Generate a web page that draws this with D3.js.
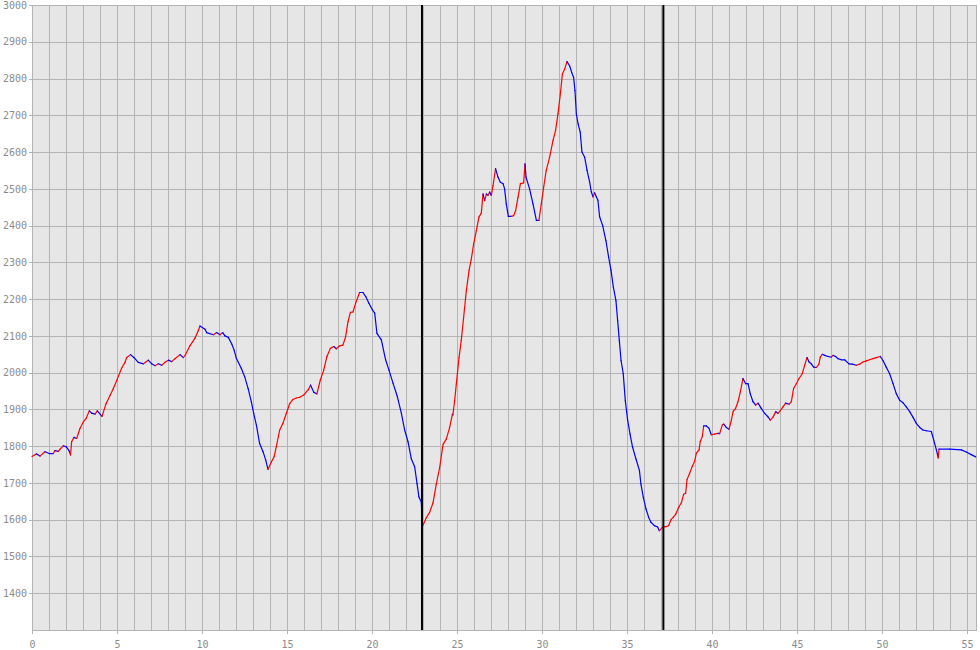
<!DOCTYPE html>
<html>
<head>
<meta charset="utf-8">
<script src="https://cdn.jsdelivr.net/npm/d3@7"></script>
<style>
  html, body { margin: 0; padding: 0; background: #ffffff; }
  svg { display: block; }
  .lbl { font-family: "DejaVu Sans Mono", "Liberation Mono", monospace; font-size: 10px; fill: #8c8c8c; }
</style>
</head>
<body>
<svg id="chart" width="980" height="650"></svg>
<script>
// ---- data ----
const distanceKm = [
  0.00,0.27,0.47,0.76,1.02,1.25,1.35,1.55,1.65,1.84,2.02,2.18,2.27,2.33,2.47,2.63,2.82,3.02,3.18,3.37,
  3.51,3.71,3.84,4.12,4.35,4.59,4.78,5.02,5.27,5.47,5.57,5.80,6.02,6.25,6.55,6.84,7.04,7.24,7.43,7.63,
  7.82,8.02,8.22,8.41,8.71,8.90,9.02,9.29,9.59,9.78,9.88,10.18,10.27,10.67,10.86,11.06,11.22,11.35,11.55,11.75,
  11.90,12.02,12.31,12.51,12.71,12.90,13.04,13.20,13.39,13.59,13.75,13.88,14.08,14.24,14.37,14.57,14.76,14.96,15.16,15.35,
  15.55,15.75,15.98,16.24,16.39,16.57,16.76,16.96,17.16,17.35,17.55,17.75,17.90,18.10,18.29,18.45,18.59,18.73,18.88,19.04,
  19.27,19.47,19.63,19.82,20.02,20.16,20.29,20.55,20.80,21.00,21.24,21.49,21.73,21.92,22.12,22.31,22.51,22.65,22.76,22.90,
  22.96,23.20,23.39,23.59,23.78,23.98,24.18,24.37,24.57,24.73,24.76,24.86,24.96,25.12,25.25,25.39,25.55,25.71,25.84,25.98,
  26.14,26.29,26.43,26.53,26.63,26.73,26.82,26.92,27.02,27.12,27.27,27.41,27.55,27.71,27.80,27.90,28.02,28.20,28.33,28.45,
  28.59,28.73,28.92,29.00,29.06,29.27,29.47,29.67,29.82,29.96,30.10,30.25,30.45,30.65,30.80,30.94,31.08,31.20,31.33,31.47,
  31.63,31.75,31.86,31.94,32.02,32.12,32.25,32.35,32.51,32.65,32.80,32.90,33.00,33.10,33.20,33.29,33.39,33.57,33.76,33.92,
  34.06,34.20,34.35,34.45,34.55,34.65,34.78,34.90,35.04,35.18,35.33,35.53,35.73,35.82,35.96,36.12,36.27,36.41,36.61,36.80,
  36.90,37.10,37.29,37.45,37.59,37.73,37.88,38.04,38.20,38.33,38.45,38.53,38.69,38.84,38.98,39.08,39.24,39.31,39.43,39.51,
  39.67,39.82,39.96,40.16,40.35,40.45,40.61,40.69,40.84,41.00,41.14,41.24,41.39,41.53,41.67,41.82,41.98,42.12,42.25,42.41,
  42.57,42.71,42.90,43.10,43.29,43.43,43.59,43.75,43.88,44.02,44.18,44.33,44.53,44.67,44.80,44.96,45.12,45.31,45.45,45.59,
  45.71,45.84,45.98,46.14,46.29,46.37,46.49,46.63,46.82,47.02,47.12,47.27,47.41,47.61,47.80,48.06,48.25,48.49,48.69,48.88,
  49.08,49.27,49.47,49.67,49.90,50.06,50.25,50.45,50.65,50.84,51.04,51.24,51.43,51.63,51.82,52.02,52.22,52.41,52.61,52.90,
  53.04,53.20,53.31,53.35,53.98,54.67,54.96,55.25,55.51
];
const elevationM = [
  1772,1779,1773,1785,1780,1780,1788,1786,1792,1801,1798,1788,1776,1812,1824,1821,1848,1866,1875,1896,
  1890,1887,1896,1881,1915,1938,1956,1983,2012,2028,2041,2049,2040,2028,2024,2034,2024,2019,2024,2020,
  2028,2034,2030,2038,2049,2041,2048,2073,2094,2114,2127,2118,2109,2103,2109,2103,2109,2100,2096,2078,
  2060,2039,2012,1989,1957,1921,1889,1857,1807,1785,1762,1737,1757,1771,1798,1844,1862,1889,1916,1927,
  1931,1933,1939,1953,1966,1947,1942,1980,2007,2044,2066,2071,2065,2073,2075,2098,2139,2164,2165,2189,
  2218,2218,2207,2189,2171,2162,2107,2089,2035,2007,1971,1935,1889,1844,1812,1766,1744,1698,1662,1648,
  1581,1606,1620,1646,1696,1742,1805,1819,1851,1887,1885,1923,1969,2041,2087,2150,2223,2278,2309,2350,
  2387,2423,2434,2486,2468,2486,2482,2491,2482,2509,2555,2532,2518,2514,2500,2459,2425,2425,2427,2441,
  2477,2514,2516,2568,2532,2500,2459,2414,2414,2459,2505,2550,2586,2632,2659,2704,2758,2812,2825,2846,
  2834,2816,2803,2767,2704,2677,2654,2600,2586,2550,2519,2492,2478,2489,2478,2469,2424,2400,2359,2314,
  2278,2232,2196,2142,2087,2033,1997,1924,1870,1833,1797,1765,1734,1697,1661,1629,1607,1593,1584,1580,
  1570,1580,1581,1584,1600,1607,1616,1634,1646,1669,1672,1709,1727,1745,1759,1781,1790,1813,1826,1855,
  1855,1849,1831,1833,1835,1834,1858,1860,1851,1846,1871,1894,1903,1921,1948,1984,1970,1970,1943,1921,
  1912,1917,1903,1889,1880,1871,1879,1894,1889,1897,1907,1917,1914,1921,1957,1970,1984,1997,2020,2041,
  2029,2024,2015,2014,2023,2042,2050,2047,2044,2042,2047,2044,2038,2035,2035,2024,2023,2020,2023,2029,
  2032,2035,2038,2041,2044,2033,2015,1997,1970,1943,1925,1918,1907,1894,1879,1862,1851,1844,1842,1840,
  1817,1790,1768,1792,1792,1790,1784,1777,1771
];
const xGridValues = d3.range(0, 56, 1);
const xLabelValues = [0, 5, 10, 15, 20, 25, 30, 35, 40, 45, 50, 55];
const yGridValues = d3.range(1300, 3001, 100);
const yLabelValues = [1400, 1500, 1600, 1700, 1800, 1900, 2000, 2100, 2200, 2300, 2400, 2500, 2600, 2700, 2800, 2900, 3000];
const markerKm = [22.94, 37.14];
const xDomain = [0, 55.53];
const yDomain = [1300, 3000];

(function draw() {
  const svg = d3.select("#chart");
  const pL = 32, pR = 976, pT = 5, pB = 630;
  const x = d3.scaleLinear().domain(xDomain).range([pL, pR]);
  const y = d3.scaleLinear().domain(yDomain).range([pB, pT]);

  svg.append("rect").attr("x", pL).attr("y", pT)
    .attr("width", pR - pL).attr("height", pB - pT).attr("fill", "#e6e6e6");

  const gridColor = "#b4b4b4";
  const gx = svg.append("g").attr("transform", `translate(0,${pB})`)
    .call(d3.axisBottom(x).tickValues(xGridValues).tickSize(-(pB - pT)).tickFormat(""));
  gx.select(".domain").remove();
  gx.selectAll("line").attr("stroke", gridColor).attr("shape-rendering", "crispEdges");

  const gy = svg.append("g").attr("transform", `translate(${pL},0)`)
    .call(d3.axisLeft(y).tickValues(yGridValues).tickSize(-(pR - pL)).tickFormat(""));
  gy.select(".domain").remove();
  gy.selectAll("line").attr("stroke", gridColor).attr("shape-rendering", "crispEdges");

  svg.append("rect").attr("x", pL).attr("y", pT)
    .attr("width", pR - pL).attr("height", pB - pT)
    .attr("fill", "none").attr("stroke", gridColor).attr("shape-rendering", "crispEdges");

  const ax = svg.append("g").attr("transform", `translate(0,${pB})`)
    .call(d3.axisBottom(x).tickValues(xLabelValues).tickSize(4).tickPadding(7).tickFormat(d3.format("d")));
  ax.select(".domain").remove();
  ax.selectAll("line").attr("stroke", gridColor).attr("shape-rendering", "crispEdges");
  ax.selectAll("text").attr("class", "lbl").attr("fill", null);
  ax.attr("font-family", null).attr("font-size", null);

  const ay = svg.append("g").attr("transform", `translate(${pL},0)`)
    .call(d3.axisLeft(y).tickValues(yLabelValues).tickSize(3).tickPadding(2).tickFormat(d3.format("d")));
  ay.select(".domain").remove();
  ay.selectAll("line").attr("stroke", gridColor).attr("shape-rendering", "crispEdges");
  ay.selectAll("text").attr("class", "lbl").attr("fill", null);
  ay.attr("font-family", null).attr("font-size", null);

  const segs = d3.range(distanceKm.length - 1).map(i => ({
    x1: distanceKm[i], y1: elevationM[i], x2: distanceKm[i + 1], y2: elevationM[i + 1]
  }));
  svg.append("g").selectAll("line").data(segs).join("line")
    .attr("x1", d => x(d.x1)).attr("y1", d => y(d.y1))
    .attr("x2", d => x(d.x2)).attr("y2", d => y(d.y2))
    .attr("stroke", d => d.y2 > d.y1 ? "#ff0000" : "#0000ff")
    .attr("stroke-width", 1.2)
    .attr("stroke-linecap", "round");

  svg.append("g").selectAll("line").data(markerKm).join("line")
    .attr("x1", d => x(d)).attr("x2", d => x(d))
    .attr("y1", pT).attr("y2", pB)
    .attr("stroke", "#000").attr("stroke-width", 2);
})();
</script>
</body>
</html>
